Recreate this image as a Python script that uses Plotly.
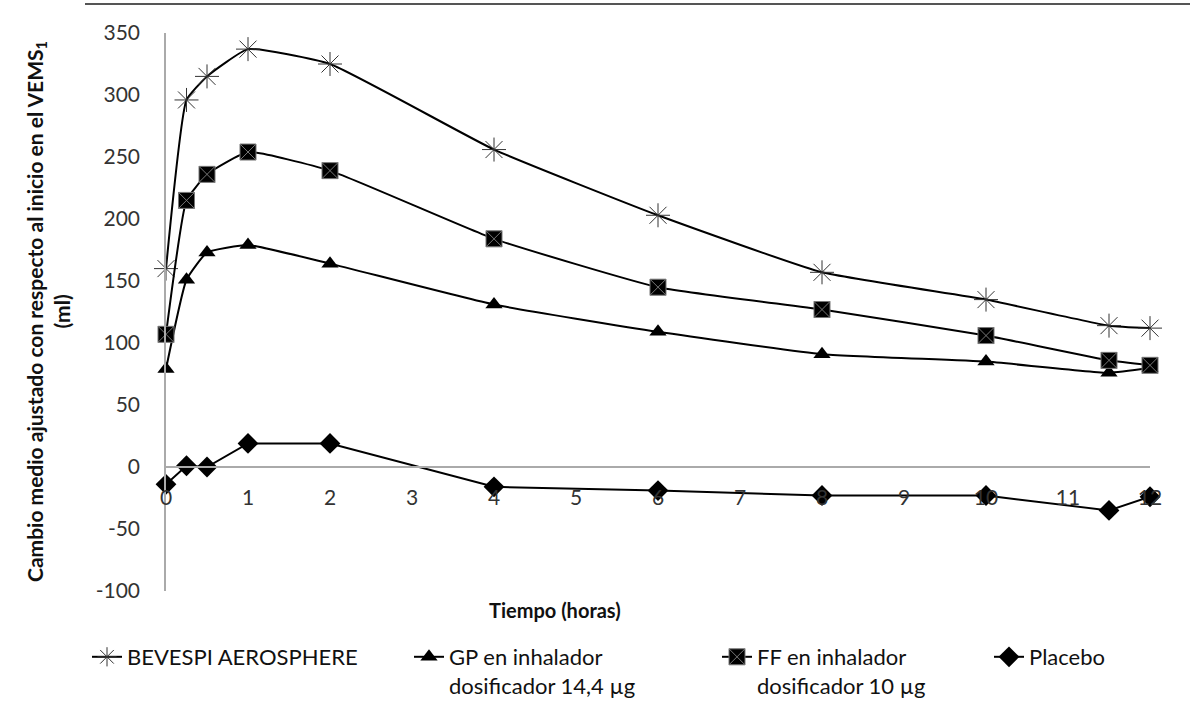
import plotly.graph_objects as go

hours = [0, 0.25, 0.5, 1, 2, 4, 6, 8, 10, 11.5, 12]
bevespi = [160, 296, 315, 337, 325, 256, 203, 157, 135, 114, 112]
ff = [107, 215, 236, 254, 239, 184, 145, 127, 106, 86, 82]
gp = [79, 151, 173, 179, 164, 131, 109, 91, 85, 76, 80]
placebo = [-14, 1, 0, 19, 19, -16, -19, -23, -23, -35, -24]

names = ["BEVESPI AEROSPHERE", "GP en inhalador<br>dosificador 14,4 µg",
         "FF en inhalador<br>dosificador 10 µg", "Placebo"]
x_ticks = list(range(0, 13))
y_ticks = list(range(-100, 351, 50))
y_ticktext = [str(v) for v in y_ticks]  # plain hyphen minus like the original

FONT = "Lato, Liberation Sans, sans-serif"
SMOOTH = 0.4
W, H = 1190, 707

fig = go.Figure()
fig.add_trace(go.Scatter(
    x=hours, y=bevespi, name=names[0], mode="lines+markers", legend="legend",
    line=dict(color="black", width=2, shape="spline", smoothing=SMOOTH),
    marker=dict(symbol="asterisk-open", size=20, color="#333", line=dict(color="#333", width=1)),
    cliponaxis=False))
fig.add_trace(go.Scatter(
    x=hours, y=gp, name=names[1], mode="lines+markers", legend="legend2",
    line=dict(color="black", width=2, shape="spline", smoothing=SMOOTH),
    marker=dict(symbol="triangle-up", size=15, color="black"),
    cliponaxis=False))
fig.add_trace(go.Scatter(
    x=hours, y=ff, name=names[2], mode="lines+markers", legend="legend3",
    line=dict(color="black", width=2, shape="spline", smoothing=SMOOTH),
    marker=dict(symbol="square-x", size=16, color="black", line=dict(color="#777", width=1)),
    cliponaxis=False))
fig.add_trace(go.Scatter(
    x=hours, y=placebo, name=names[3], mode="lines+markers", legend="legend4",
    line=dict(color="black", width=2),
    marker=dict(symbol="diamond", size=16, color="black"),
    cliponaxis=False))


def leg(xpx):
    return dict(orientation="h", xref="container", yref="container",
                x=xpx / W, y=1 - 636 / H, xanchor="left", yanchor="top",
                font=dict(family=FONT, size=22, color="#111"), valign="top",
                bgcolor="rgba(0,0,0,0)")


fig.update_layout(
    width=W, height=H,
    margin=dict(l=166, r=40, t=33, b=116),
    paper_bgcolor="white", plot_bgcolor="white",
    font=dict(family=FONT, size=21, color="#333"),
    showlegend=True,
    legend=leg(87), legend2=leg(409), legend3=leg(717), legend4=leg(989),
    xaxis=dict(range=[0, 12], tickvals=x_ticks, showgrid=False, zeroline=False,
               showline=True, linecolor="#aaa", linewidth=1.5, automargin=False,
               anchor="free", position=100/450, ticks="", ticklabelstandoff=12,
               tickfont=dict(size=21, color="#333")),
    yaxis=dict(range=[-100, 350], tickvals=y_ticks, ticktext=y_ticktext,
               showgrid=False, zeroline=False,
               showline=True, linecolor="#aaa", linewidth=1.5, ticks="", automargin=False,
               ticklabelstandoff=20, tickfont=dict(size=21, color="#333")),
)

fig.add_annotation(text="<b>Tiempo (horas)</b>", xref="paper", yref="paper",
                   x=(555 - 166) / 984, y=-(610 - 591) / 558, xanchor="center", yanchor="middle",
                   showarrow=False, font=dict(family=FONT, size=20, color="#111"))
fig.add_annotation(text="<b>Cambio medio ajustado con respecto al inicio en el VEMS<sub>1</sub></b><br><b>(ml)</b>",
                   xref="paper", yref="paper",
                   x=(48 - 166) / 984, y=0.5, xanchor="center", yanchor="middle",
                   textangle=-90, showarrow=False,
                   font=dict(family=FONT, size=21, color="#111"))
fig.add_shape(type="line", xref="paper", yref="paper",
              x0=(85 - 166) / 984, x1=(1190 - 166) / 984, y0=(591 - 4) / 558, y1=(591 - 4) / 558,
              line=dict(color="#555", width=2))

fig.write_html("out.html", config={"displayModeBar": False},
               post_script="document.body.style.margin='0';")
